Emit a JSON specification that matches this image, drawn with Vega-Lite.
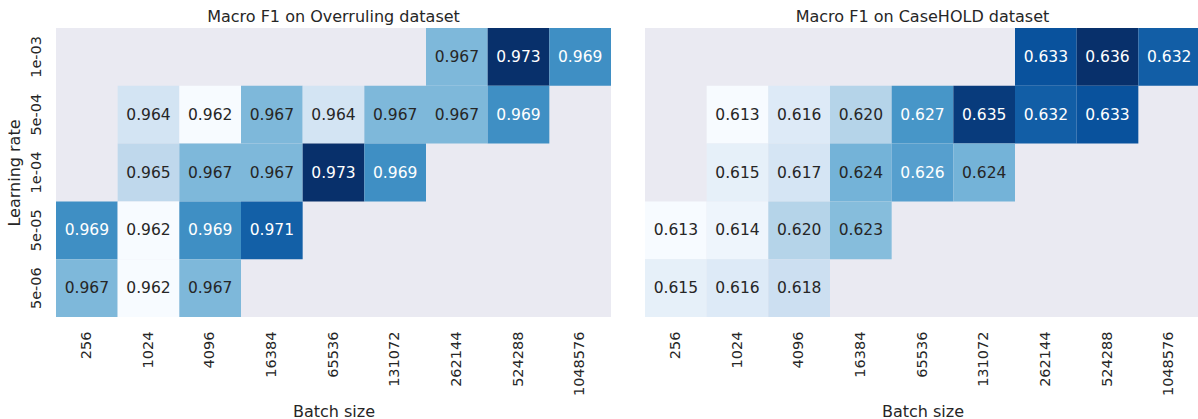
{
  "$schema": "https://vega.github.io/schema/vega-lite/v6.json",
  "background": "white",
  "padding": {"left": 6, "top": 9, "right": 0, "bottom": 0},
  "autosize": {"type": "pad"},
  "config": {
    "view": {"fill": "#EAEAF2", "stroke": null},
    "font": "DejaVu Sans",
    "axis": {
      "domain": false, "ticks": false, "grid": false,
      "labelFont": "DejaVu Sans", "labelFontSize": 14.5, "labelColor": "#262626",
      "titleFont": "DejaVu Sans", "titleFontSize": 16, "titleFontWeight": "normal", "titleColor": "#262626"
    },
    "axisX": {"labelPadding": 14, "titlePadding": 8},
    "axisY": {"labelPadding": 13, "titlePadding": 6},
    "title": {"font": "DejaVu Sans", "fontSize": 16, "fontWeight": "normal", "color": "#262626", "offset": 3},
    "concat": {"spacing": 34}
  },
  "datasets": {
    "overruling": [
      {"lr": "1e-03", "bs": "262144", "f1": 0.967},
      {"lr": "1e-03", "bs": "524288", "f1": 0.973},
      {"lr": "1e-03", "bs": "1048576", "f1": 0.969},
      {"lr": "5e-04", "bs": "1024", "f1": 0.964},
      {"lr": "5e-04", "bs": "4096", "f1": 0.962},
      {"lr": "5e-04", "bs": "16384", "f1": 0.967},
      {"lr": "5e-04", "bs": "65536", "f1": 0.964},
      {"lr": "5e-04", "bs": "131072", "f1": 0.967},
      {"lr": "5e-04", "bs": "262144", "f1": 0.967},
      {"lr": "5e-04", "bs": "524288", "f1": 0.969},
      {"lr": "1e-04", "bs": "1024", "f1": 0.965},
      {"lr": "1e-04", "bs": "4096", "f1": 0.967},
      {"lr": "1e-04", "bs": "16384", "f1": 0.967},
      {"lr": "1e-04", "bs": "65536", "f1": 0.973},
      {"lr": "1e-04", "bs": "131072", "f1": 0.969},
      {"lr": "5e-05", "bs": "256", "f1": 0.969},
      {"lr": "5e-05", "bs": "1024", "f1": 0.962},
      {"lr": "5e-05", "bs": "4096", "f1": 0.969},
      {"lr": "5e-05", "bs": "16384", "f1": 0.971},
      {"lr": "5e-06", "bs": "256", "f1": 0.967},
      {"lr": "5e-06", "bs": "1024", "f1": 0.962},
      {"lr": "5e-06", "bs": "4096", "f1": 0.967}
    ],
    "casehold": [
      {"lr": "1e-03", "bs": "262144", "f1": 0.633},
      {"lr": "1e-03", "bs": "524288", "f1": 0.636},
      {"lr": "1e-03", "bs": "1048576", "f1": 0.632},
      {"lr": "5e-04", "bs": "1024", "f1": 0.613},
      {"lr": "5e-04", "bs": "4096", "f1": 0.616},
      {"lr": "5e-04", "bs": "16384", "f1": 0.620},
      {"lr": "5e-04", "bs": "65536", "f1": 0.627},
      {"lr": "5e-04", "bs": "131072", "f1": 0.635},
      {"lr": "5e-04", "bs": "262144", "f1": 0.632},
      {"lr": "5e-04", "bs": "524288", "f1": 0.633},
      {"lr": "1e-04", "bs": "1024", "f1": 0.615},
      {"lr": "1e-04", "bs": "4096", "f1": 0.617},
      {"lr": "1e-04", "bs": "16384", "f1": 0.624},
      {"lr": "1e-04", "bs": "65536", "f1": 0.626},
      {"lr": "1e-04", "bs": "131072", "f1": 0.624},
      {"lr": "5e-05", "bs": "256", "f1": 0.613},
      {"lr": "5e-05", "bs": "1024", "f1": 0.614},
      {"lr": "5e-05", "bs": "4096", "f1": 0.620},
      {"lr": "5e-05", "bs": "16384", "f1": 0.623},
      {"lr": "5e-06", "bs": "256", "f1": 0.615},
      {"lr": "5e-06", "bs": "1024", "f1": 0.616},
      {"lr": "5e-06", "bs": "4096", "f1": 0.618}
    ]
  },
  "resolve": {"scale": {"color": "independent", "x": "independent", "y": "independent"}},
  "hconcat": [
    {
      "title": "Macro F1 on Overruling dataset",
      "width": 555, "height": 289,
      "data": {"name": "overruling"},
      "encoding": {
        "x": {"field": "bs", "type": "ordinal",
              "scale": {"domain": ["256", "1024", "4096", "16384", "65536", "131072", "262144", "524288", "1048576"], "paddingInner": 0, "paddingOuter": 0},
              "axis": {"title": "Batch size", "labelAngle": 270}},
        "y": {"field": "lr", "type": "ordinal",
              "scale": {"domain": ["1e-03", "5e-04", "1e-04", "5e-05", "5e-06"], "paddingInner": 0, "paddingOuter": 0},
              "axis": {"title": "Learning rate", "labelAngle": 270}}
      },
      "layer": [
        {"mark": {"type": "rect"},
         "encoding": {"color": {"field": "f1", "type": "quantitative", "legend": null,
           "scale": {"domain": [0.962, 0.963375, 0.96475, 0.966125, 0.9675, 0.968875, 0.97025, 0.971625, 0.973],
                     "range": ["#f7fbff", "#deebf7", "#c6dbef", "#9ecae1", "#6baed6", "#4292c6", "#2171b5", "#08519c", "#08306b"],
                     "interpolate": "rgb", "nice": false, "zero": false, "clamp": true}}}},
        {"mark": {"type": "text", "fontSize": 15.5, "font": "DejaVu Sans"},
         "encoding": {"text": {"field": "f1", "type": "quantitative", "format": ".3f"},
           "color": {"condition": {"test": "datum.f1 >= 0.968", "value": "white"}, "value": "#262626"}}}
      ]
    },
    {
      "title": "Macro F1 on CaseHOLD dataset",
      "width": 555, "height": 289,
      "data": {"name": "casehold"},
      "encoding": {
        "x": {"field": "bs", "type": "ordinal",
              "scale": {"domain": ["256", "1024", "4096", "16384", "65536", "131072", "262144", "524288", "1048576"], "paddingInner": 0, "paddingOuter": 0},
              "axis": {"title": "Batch size", "labelAngle": 270}},
        "y": {"field": "lr", "type": "ordinal",
              "scale": {"domain": ["1e-03", "5e-04", "1e-04", "5e-05", "5e-06"], "paddingInner": 0, "paddingOuter": 0},
              "axis": null}
      },
      "layer": [
        {"mark": {"type": "rect"},
         "encoding": {"color": {"field": "f1", "type": "quantitative", "legend": null,
           "scale": {"domain": [0.613, 0.615875, 0.61875, 0.621625, 0.6245, 0.627375, 0.63025, 0.633125, 0.636],
                     "range": ["#f7fbff", "#deebf7", "#c6dbef", "#9ecae1", "#6baed6", "#4292c6", "#2171b5", "#08519c", "#08306b"],
                     "interpolate": "rgb", "nice": false, "zero": false, "clamp": true}}}},
        {"mark": {"type": "text", "fontSize": 15.5, "font": "DejaVu Sans"},
         "encoding": {"text": {"field": "f1", "type": "quantitative", "format": ".3f"},
           "color": {"condition": {"test": "datum.f1 >= 0.625", "value": "white"}, "value": "#262626"}}}
      ]
    }
  ]
}
